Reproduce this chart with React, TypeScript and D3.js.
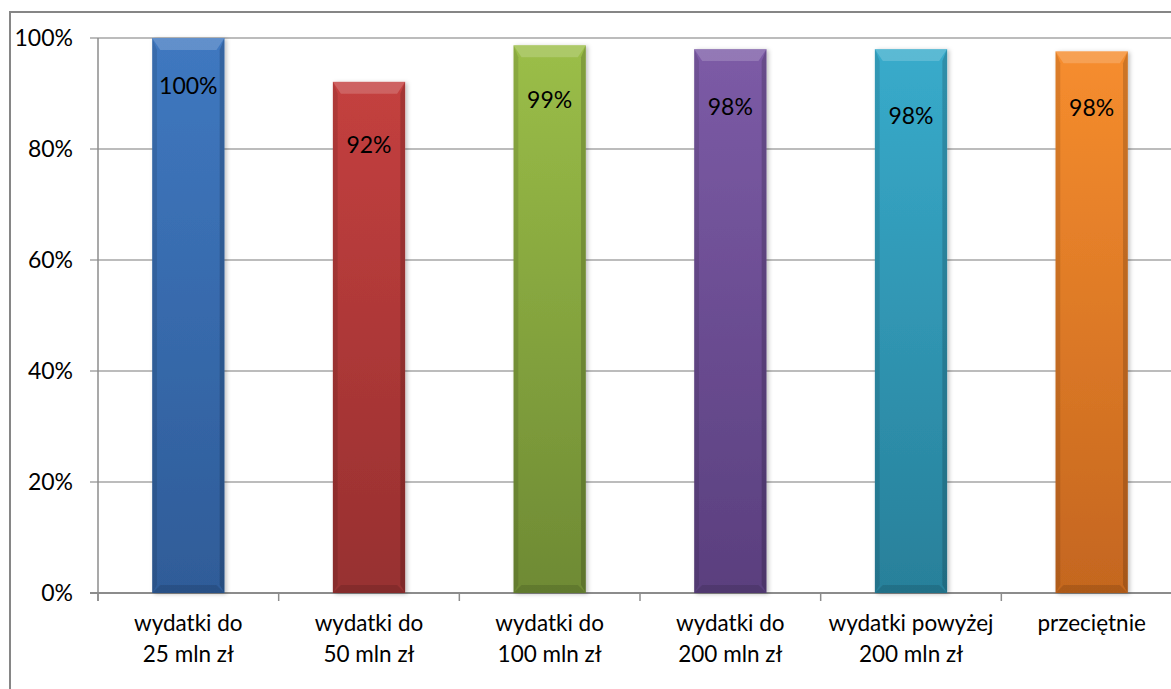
import * as d3 from "d3";

// ─── Data ─────────────────────────────────────────────────────────────────────

const CATEGORIES = [
  ["wydatki do", "25 mln zł"],
  ["wydatki do", "50 mln zł"],
  ["wydatki do", "100 mln zł"],
  ["wydatki do", "200 mln zł"],
  ["wydatki powyżej", "200 mln zł"],
  ["przeciętnie"],
];
const VALUES = [1.0, 0.921, 0.987, 0.98, 0.98, 0.976];
const VALUE_LABELS = ["100%", "92%", "99%", "98%", "98%", "98%"];
const Y_TICKS = [0, 0.2, 0.4, 0.6, 0.8, 1.0];

// top / bottom shade of each bar
const BAR_TOP = ["#3F78C0", "#C4403F", "#9BBE48", "#7C5BA6", "#38ABCB", "#F68D2E"];
const BAR_BOTTOM = ["#2F5C98", "#973030", "#6E8A34", "#5A3F7E", "#28809A", "#C4661F"];

// ─── Layout ───────────────────────────────────────────────────────────────────

const W = 1171;
const H = 689;
const LEFT = 98;
const RIGHT = 1182;
const TOP = 38;
const BOTTOM = 593;
const LABEL_OFFSET = [48, 63, 55, 58, 67, 56]; // label centre below bar top
const FONT = "Lato, 'Open Sans', sans-serif";
const BEVEL = 8;

export default function App() {
  const keys = CATEGORIES.map((_, i) => String(i));
  const x = d3
    .scaleBand()
    .domain(keys)
    .range([LEFT, RIGHT])
    .paddingInner(0.6)
    .paddingOuter(0.3);
  const y = d3.scaleLinear().domain([0, 1]).range([BOTTOM, TOP]);
  const step = x.step();
  const bw = x.bandwidth();
  const fmt = d3.format(".0%");

  return (
    <div style={{ position: "absolute", left: 0, top: 0 }}>
      <svg width={W} height={H} style={{ display: "block", background: "#fff" }}>
        <defs>
          {BAR_TOP.map((c, i) => (
            <linearGradient key={i} id={`bg${i}`} x1="0" y1="0" x2="0" y2="1">
              <stop offset="0%" stopColor={c} />
              <stop offset="100%" stopColor={BAR_BOTTOM[i]} />
            </linearGradient>
          ))}
          <filter id="shadow" x="-20%" y="-5%" width="150%" height="115%">
            <feDropShadow dx="2" dy="1" stdDeviation="2" floodColor="#000" floodOpacity="0.25" />
          </filter>
        </defs>

        {/* outer frame */}
        <rect x={10} y={12} width={W + 20} height={H + 20} fill="none" stroke="#868686" strokeWidth={2} />

        {/* gridlines */}
        {Y_TICKS.slice(1).map((t) => (
          <line key={t} x1={LEFT - 8} x2={W + 5} y1={y(t)} y2={y(t)} stroke="#A6A6A6" strokeWidth={1.5} />
        ))}

        {/* axes */}
        <line x1={LEFT} x2={LEFT} y1={TOP} y2={BOTTOM + 8} stroke="#8C8C8C" strokeWidth={1.5} />
        <line x1={LEFT - 8} x2={W + 5} y1={BOTTOM} y2={BOTTOM} stroke="#8C8C8C" strokeWidth={2} />
        {Y_TICKS.map((t) => (
          <text
            key={t}
            x={73}
            y={y(t)}
            dy="0.36em"
            textAnchor="end"
            fontFamily={FONT}
            fontSize={23}
            fill="#000"
          >
            {fmt(t)}
          </text>
        ))}

        {/* category ticks */}
        {keys.map((k) => (
          <line
            key={k}
            x1={x(k)! - (step - bw) / 2}
            x2={x(k)! - (step - bw) / 2}
            y1={BOTTOM}
            y2={BOTTOM + 8}
            stroke="#8C8C8C"
            strokeWidth={1.5}
          />
        ))}

        {/* bars */}
        {VALUES.map((v, i) => {
          const x0 = x(keys[i])!;
          const x1 = x0 + bw;
          const y0 = y(v);
          const y1 = y(0);
          const b = BEVEL;
          return (
            <g key={i}>
              <rect x={x0} y={y0} width={bw} height={y1 - y0} fill={`url(#bg${i})`} filter="url(#shadow)" />
              {/* top bevel */}
              <polygon
                points={`${x0},${y0} ${x1},${y0} ${x1 - b},${y0 + b + 4} ${x0 + b},${y0 + b + 4}`}
                fill="#fff"
                opacity={0.18}
              />
              {/* side bevels */}
              <polygon
                points={`${x0},${y0} ${x0 + b * 0.6},${y0 + b + 4} ${x0 + b * 0.6},${y1 - b} ${x0},${y1}`}
                fill="#000"
                opacity={0.1}
              />
              <polygon
                points={`${x1},${y0} ${x1 - b * 0.6},${y0 + b + 4} ${x1 - b * 0.6},${y1 - b} ${x1},${y1}`}
                fill="#000"
                opacity={0.16}
              />
              {/* bottom bevel */}
              <polygon
                points={`${x0},${y1} ${x1},${y1} ${x1 - b},${y1 - b} ${x0 + b},${y1 - b}`}
                fill="#000"
                opacity={0.12}
              />
              <text
                x={x0 + bw / 2}
                y={y0 + LABEL_OFFSET[i]}
                dy="0.36em"
                textAnchor="middle"
                fontFamily={FONT}
                fontSize={23}
                fill="#000"
              >
                {VALUE_LABELS[i]}
              </text>
            </g>
          );
        })}

        {/* category labels */}
        {CATEGORIES.map((lines, i) => (
          <text
            key={i}
            x={x(keys[i])! + bw / 2}
            y={631}
            textAnchor="middle"
            fontFamily={FONT}
            fontSize={22.5}
            fill="#000"
          >
            {lines.map((l, j) => (
              <tspan key={j} x={x(keys[i])! + bw / 2} dy={j === 0 ? 0 : 31}>
                {l}
              </tspan>
            ))}
          </text>
        ))}
      </svg>
    </div>
  );
}
